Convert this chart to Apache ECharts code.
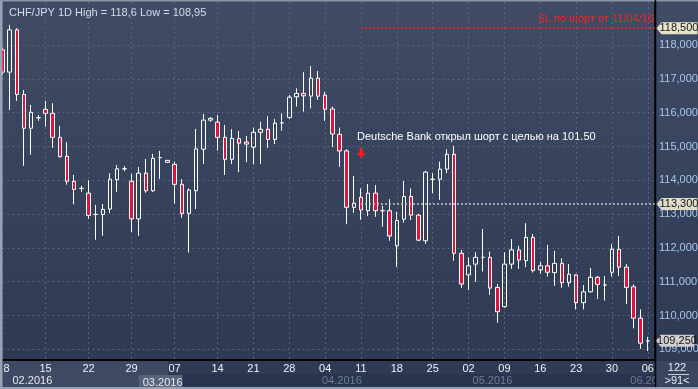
<!DOCTYPE html>
<html><head><meta charset="utf-8">
<script src="https://cdn.jsdelivr.net/npm/echarts@6/dist/echarts.min.js"></script>
<style>html,body{margin:0;padding:0;background:#2f3b55;overflow:hidden}#c{width:698px;height:389px}</style>
</head><body><div id="c"></div><script>
const dates = [
 '2016-02-08','2016-02-09','2016-02-10','2016-02-11','2016-02-12','2016-02-14',
 '2016-02-15','2016-02-16','2016-02-17','2016-02-18','2016-02-19','2016-02-21',
 '2016-02-22','2016-02-23','2016-02-24','2016-02-25','2016-02-26','2016-02-28',
 '2016-02-29','2016-03-01','2016-03-02','2016-03-03','2016-03-04','2016-03-06',
 '2016-03-07','2016-03-08','2016-03-09','2016-03-10','2016-03-11','2016-03-13',
 '2016-03-14','2016-03-15','2016-03-16','2016-03-17','2016-03-18',
 '2016-03-21','2016-03-22','2016-03-23','2016-03-24','2016-03-25',
 '2016-03-28','2016-03-29','2016-03-30','2016-03-31','2016-04-01',
 '2016-04-04','2016-04-05','2016-04-06','2016-04-07','2016-04-08',
 '2016-04-11','2016-04-12','2016-04-13','2016-04-14','2016-04-15',
 '2016-04-18','2016-04-19','2016-04-20','2016-04-21','2016-04-22',
 '2016-04-25','2016-04-26','2016-04-27','2016-04-28','2016-04-29',
 '2016-05-02','2016-05-03','2016-05-04','2016-05-05','2016-05-06',
 '2016-05-09','2016-05-10','2016-05-11','2016-05-12','2016-05-13',
 '2016-05-16','2016-05-17','2016-05-18','2016-05-19','2016-05-20',
 '2016-05-23','2016-05-24','2016-05-25','2016-05-26','2016-05-27',
 '2016-05-30','2016-05-31','2016-06-01','2016-06-02','2016-06-03',
 '2016-06-06'
];
const openV = [117.86,117.20,118.45,116.54,115.54,115.85,116.10,115.98,115.27,114.71,
 113.97,113.76,113.62,112.99,112.99,113.15,114.02,114.34,113.97,112.86,
 114.21,113.69,114.67,114.53,114.47,113.88,113.02,113.69,114.92,115.78,
 115.72,115.27,114.62,115.23,115.13,114.98,115.42,115.51,115.21,115.70,
 115.86,116.47,116.57,116.49,117.02,116.52,116.11,115.36,114.87,113.20,
 113.50,113.10,113.62,113.10,113.10,112.06,112.85,113.52,112.97,112.21,
 114.03,114.03,114.33,114.77,111.84,111.20,111.52,111.72,111.72,110.83,
 110.26,111.52,111.94,111.62,112.31,111.35,111.47,111.27,111.54,110.97,
 111.20,110.38,110.70,111.13,110.90,111.28,111.96,111.43,110.85,109.92,
 109.25];
const closeV = [117.20,118.45,116.54,115.54,116.01,115.85,115.98,115.27,114.70,113.97,
 113.73,113.76,112.96,112.99,113.14,114.03,114.34,114.34,112.86,114.21,
 113.69,114.65,114.67,114.59,113.88,113.02,113.71,114.93,115.78,115.83,
 115.27,114.62,115.24,115.10,115.07,115.42,115.51,115.21,115.69,115.70,
 116.46,116.57,116.50,117.02,116.49,116.10,115.37,114.87,113.20,113.32,
 113.12,113.62,113.10,113.10,112.35,112.81,113.52,112.97,112.23,114.24,
 114.03,114.33,114.77,111.84,110.93,111.47,111.72,111.72,110.81,110.11,
 111.52,111.94,111.64,112.31,111.33,111.47,111.28,111.54,110.97,111.22,
 110.38,110.70,111.13,110.92,110.90,111.96,111.43,110.83,109.92,109.18,
 109.25];
const lowV = [117.12,116.08,116.35,114.43,114.76,115.76,115.59,114.96,114.67,113.87,
 113.29,113.65,112.86,112.24,112.36,113.03,113.66,114.27,112.47,112.36,
 113.63,113.66,114.04,114.52,113.31,112.89,111.86,113.15,114.48,115.73,
 114.88,114.16,114.48,114.24,114.54,114.47,114.48,114.96,115.07,115.47,
 115.81,116.18,116.03,116.13,116.38,115.76,114.98,114.40,112.70,113.04,
 112.83,112.94,112.92,112.63,112.21,111.44,112.75,112.83,112.20,112.12,
 113.62,113.42,114.21,111.62,110.81,110.75,111.00,111.30,110.61,109.79,
 110.24,111.38,111.38,111.43,111.27,111.23,111.15,110.88,110.82,110.85,
 110.18,110.18,110.68,110.49,110.44,111.15,111.17,110.34,109.62,109.01,
 108.95];
const highV = [117.92,118.60,118.50,116.67,116.23,115.93,116.35,116.28,115.61,115.13,
 114.16,113.84,114.00,113.27,113.30,114.21,114.45,114.42,114.19,114.39,
 114.63,114.78,114.87,114.60,114.55,114.03,113.76,115.52,115.96,115.87,
 115.93,115.64,115.51,115.46,115.31,115.56,115.73,115.90,115.81,115.98,
 116.52,116.72,117.20,117.38,117.23,116.62,116.18,115.56,114.92,114.13,
 113.76,113.89,113.86,113.24,113.44,113.07,113.98,113.76,113.00,114.28,
 114.21,114.55,114.92,115.02,111.94,111.72,111.87,112.56,111.89,110.93,
 111.87,112.26,112.06,112.73,112.41,111.59,112.09,111.91,111.69,111.52,
 111.22,110.90,111.41,111.17,111.17,112.11,112.35,111.52,110.92,110.18,
 109.37];
const dayTickIdx  = [0,6,12,18,24,30,35,40,45,50,55,60,65,70,75,80,85,90];
const dayTickText = ['8','15','22','29','07','14','21','28','04','11','18','25','02','09','16','23','30','06'];
const monthIdx  = [0,19,44,65,87];
const monthText = ['02.2016','03.2016','04.2016','05.2016','06.2016'];
const yLabelValues = [109,110,111,112,113,114,115,116,117,118];
const slLevel = 118.5, entryLevel = 113.3, lastPrice = 109.25;
const signalIdx = 50;
const arrowLevel = 114.81, noteLevel = 115.27;
const noteText = 'Deutsche Bank открыл шорт с целью на 101.50';
const slText = 'SL по шорт от 11/04/16';
const titleText = 'CHF/JPY 1D High = 118,6 Low = 108,95';

const cats = dates.concat(['']);
const lastIdx = cats.length - 1;
const candles = dates.map((d, i) => [openV[i], closeV[i], lowV[i], highV[i]]);
const fmt3 = v => v.toFixed(3).replace('.', ',');
const FONT = '"Liberation Sans", Arial, sans-serif';
const tagPath = 'path://M0,6L5,0L41,0L41,12L5,12Z';

const chart = echarts.init(document.getElementById('c'), null, {renderer: 'canvas'});
chart.setOption({
  animation: false,
  backgroundColor: {type: 'linear', x: 0, y: 0, x2: 0, y2: 1, colorStops: [
    {offset: 0, color: '#404c66'}, {offset: 1, color: '#2d3953'}]},
  textStyle: {fontFamily: FONT},
  title: {text: titleText, left: 4, top: 2, textStyle: {color: '#d4dcea', fontSize: 11, fontWeight: 'normal', fontFamily: FONT}},
  grid: [
    {left: 2.5, top: 2, width: 652.5, height: 358, containLabel: false, outerBoundsMode: 'none'},
    {left: 2.5, top: 11.3, width: 652.5, height: 338, containLabel: false, outerBoundsMode: 'none'}
  ],
  xAxis: [
    {type: 'category', gridIndex: 0, data: cats, boundaryGap: false,
     axisLine: {show: true, lineStyle: {color: '#000', width: 2}},
     axisTick: {show: false},
     splitLine: {show: true, interval: (i) => dayTickIdx.includes(i), lineStyle: {color: '#56647e', type: [2, 3], width: 1}},
     axisLabel: {interval: (i) => dayTickIdx.includes(i), margin: 3, fontSize: 11, fontFamily: FONT,
       color: (v, i) => (i !== undefined && i <= 18) ? '#eef0f4' : '#6e7c95',
       formatter: (v, i) => { const k = dayTickIdx.indexOf(i); if (k < 0) return ''; return k === 0 ? '{p|' + dayTickText[k] + '}' : dayTickText[k]; },
       rich: {p: {padding: [0, 0, 0, 8], color: '#eef0f4', fontSize: 11, fontFamily: FONT}}}
    },
    {type: 'category', gridIndex: 0, data: cats, boundaryGap: false, position: 'bottom',
     axisLine: {show: false}, axisTick: {show: false}, splitLine: {show: false},
     axisLabel: {interval: (i) => monthIdx.includes(i), margin: 15, align: 'left', fontSize: 11, fontFamily: FONT,
       formatter: (v, i) => { const k = monthIdx.indexOf(i); if (k < 0) return ''; return '{m' + Math.min(k, 2) + '|' + monthText[k] + '}'; },
       rich: {
         m0: {padding: [0, 0, 0, 10], color: '#e8eaee', fontSize: 11, fontFamily: FONT},
         m1: {padding: [2, 0, 1, 4], color: '#e8eaee', fontSize: 11, fontFamily: FONT, backgroundColor: '#56637c'},
         m2: {padding: [0, 0, 0, 4], color: '#6e7c95', fontSize: 11, fontFamily: FONT}
       }}
    },
    {type: 'value', gridIndex: 1, show: false, min: 0, max: 1}
  ],
  yAxis: [
    {type: 'value', gridIndex: 0, position: 'right', min: 108.683, max: 119.275,
     axisLine: {show: true, lineStyle: {color: '#000', width: 1.5}},
     axisTick: {show: false}, axisLabel: {show: false}, splitLine: {show: false}},
    {type: 'value', gridIndex: 1, position: 'right', min: 109, max: 119, interval: 1,
     axisLine: {show: false}, axisTick: {show: false},
     splitLine: {show: true, showMaxLine: false, lineStyle: {color: '#56647e', type: [2, 3], width: 1}},
     axisLabel: {margin: 4, fontSize: 11, fontFamily: FONT, color: '#a8c6ea',
       formatter: v => yLabelValues.includes(v) ? fmt3(v) : ''}}
  ],
  series: [{
    type: 'candlestick', xAxisIndex: 0, yAxisIndex: 0, data: candles,
    barWidth: 4, clip: false, silent: true,
    itemStyle: {color: 'rgba(0,0,0,0)', color0: '#e2133b', borderColor: '#ffffff', borderColor0: '#ffffff', borderWidth: 1},
    markLine: {
      silent: true, symbol: ['none', 'none'], animation: false,
      data: [
        [{coord: [signalIdx, slLevel], lineStyle: {color: '#d4262c', type: [2, 2], width: 2},
          label: {show: true, position: 'insideEndTop', distance: [1, 4], formatter: slText, color: '#ff1f1f', fontSize: 11, fontFamily: FONT}},
         {coord: [lastIdx, slLevel]}],
        [{coord: [signalIdx, entryLevel], lineStyle: {color: '#c8c8c8', type: [2, 2], width: 1.5}, label: {show: false}},
         {coord: [lastIdx, entryLevel]}]
      ]
    },
    markPoint: {
      silent: true, animation: false,
      data: [
        {coord: [lastIdx, slLevel], symbol: tagPath, symbolSize: [41, 12], symbolOffset: [22, 0], itemStyle: {color: '#e7e4c9'},
         label: {show: true, position: 'inside', offset: [2, 0], formatter: fmt3(slLevel), color: '#151515', fontSize: 11, fontFamily: FONT}},
        {coord: [lastIdx, entryLevel], symbol: tagPath, symbolSize: [41, 12], symbolOffset: [22, 0], itemStyle: {color: '#dedcc8'},
         label: {show: true, position: 'inside', offset: [2, 0], formatter: fmt3(entryLevel), color: '#151515', fontSize: 11, fontFamily: FONT}},
        {coord: [lastIdx, lastPrice], symbol: tagPath, symbolSize: [38, 12], symbolOffset: [20, 0], itemStyle: {color: '#cfcfcf'},
         label: {show: true, position: 'inside', offset: [2, 0], formatter: fmt3(lastPrice), color: '#151515', fontSize: 11, fontFamily: FONT}},
        {coord: [signalIdx, arrowLevel], symbol: 'path://M3,0L6,0L6,5L9,5L4.5,10L0,5L3,5Z', symbolSize: [9, 10], itemStyle: {color: '#ff1a1a'}, label: {show: false}},
        {coord: [signalIdx, noteLevel], symbol: 'circle', symbolSize: 0, itemStyle: {color: 'rgba(0,0,0,0)'},
         label: {show: true, position: 'right', distance: 0, offset: [-4, 0], formatter: noteText, color: '#ffffff', fontSize: 11, fontFamily: FONT}}
      ]
    }
  }],
  graphic: [
    {type: 'rect', z: -1, shape: {x: 0, y: 361, width: 698, height: 28}, style: {fill: '#2c3852'}},
    {type: 'rect', z: -1, shape: {x: 168, y: 361, width: 488, height: 13}, style: {fill: '#2f3b55'}},
    {type: 'rect', z: -1, shape: {x: 168, y: 374, width: 488, height: 13}, style: {fill: '#29344e'}},
    {type: 'rect', z: -1, shape: {x: 2, y: 361, width: 166, height: 26}, style: {fill: '#3e4a63'}},
    {type: 'rect', z: 50, shape: {x: 0, y: 0, width: 2.5, height: 389}, style: {fill: '#9aa2b2'}},
    {type: 'rect', z: 50, shape: {x: 0, y: 0, width: 698, height: 1.5}, style: {fill: '#8c95a6'}},
    {type: 'rect', z: 50, shape: {x: 0, y: 387, width: 698, height: 2}, style: {fill: '#9aa2b2'}},
    {type: 'rect', z: 60, shape: {x: 656, y: 361, width: 42, height: 26}, style: {fill: '#3a4660'}},
    {type: 'line', z: 60, shape: {x1: 655.5, y1: 0, x2: 655.5, y2: 387}, style: {stroke: '#000', lineWidth: 1.5}},
    {type: 'text', z: 61, style: {x: 677, y: 368, text: '122', fill: '#e8eaee', font: '11px ' + FONT, textAlign: 'center', textVerticalAlign: 'middle'}},
    {type: 'line', z: 61, shape: {x1: 668, y1: 374.5, x2: 689, y2: 374.5}, style: {stroke: '#c8ccd4', lineWidth: 1}},
    {type: 'text', z: 61, style: {x: 677, y: 381, text: '>91<', fill: '#e8eaee', font: '11px ' + FONT, textAlign: 'center', textVerticalAlign: 'middle'}}
  ]
});
</script></body></html>
